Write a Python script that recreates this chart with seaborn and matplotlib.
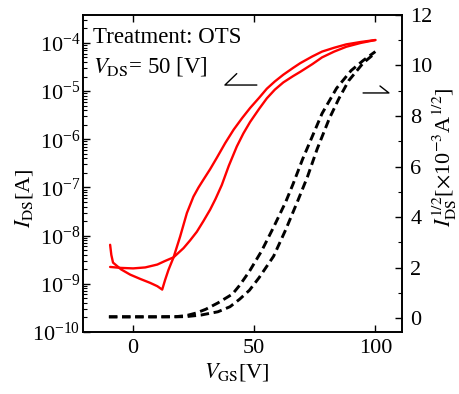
import numpy as np
import pandas as pd
import matplotlib
matplotlib.use('Agg')
import matplotlib.pyplot as plt
import seaborn as sns
from matplotlib.ticker import MultipleLocator, LogLocator, NullFormatter

# transfer curve, log scale (left axis) - two sweep directions
vgs_a = [-9.5, -5, 0, 5, 10, 13, 16.7, 20.8, 23.5, 26.3, 29, 31.8, 34, 36.6,
         39.5, 42.8, 45.5, 48.3, 52, 55.2, 58.5, 62, 66, 69, 74, 78, 83, 88, 94, 100]
log_ids_a = [-8.65, -8.67, -8.68, -8.66, -8.6, -8.53, -8.45, -8.26, -8.1, -7.92, -7.7,
             -7.46, -7.24, -6.95, -6.55, -6.15, -5.88, -5.64, -5.37, -5.15, -4.97, -4.82,
             -4.69, -4.6, -4.44, -4.3, -4.18, -4.08, -4.0, -3.94]

vgs_b = [-9.5, -9, -8.3, -5, -1.2, 3, 7, 10, 12, 13.2, 14.6, 16.7, 19.4, 22.2,
         24.9, 27, 29, 31.8, 34.6, 38, 41.5, 45, 48.3, 52, 55.2, 58.5, 62, 66,
         69, 74, 78, 83, 88, 94, 100]
log_ids_b = [-8.19, -8.4, -8.56, -8.7, -8.81, -8.9, -8.98, -9.05, -9.12, -8.92, -8.71,
             -8.45, -8.02, -7.53, -7.19, -7.0, -6.84, -6.62, -6.38, -6.08, -5.8, -5.56,
             -5.35, -5.14, -4.95, -4.8, -4.66, -4.52, -4.42, -4.28, -4.18, -4.1,
             -4.03, -3.98, -3.94]

# sqrt(I_DS) curves (right axis)
vgs_c = [-10, 0, 10, 18, 22, 26, 30, 35, 41, 44, 48, 53, 58, 63, 66, 70,
         74, 78, 84, 90, 95, 100]
sqrt_c = [0.05, 0.05, 0.05, 0.06, 0.1, 0.2, 0.35, 0.6, 0.95, 1.3, 1.85, 2.65,
          3.6, 4.6, 5.3, 6.3, 7.2, 8.1, 9.1, 9.8, 10.2, 10.55]

vgs_d = [-10, 0, 10, 18, 22, 28, 35, 40, 44, 48, 52, 58, 63, 68, 72, 76,
         81, 85, 89, 95, 100]
sqrt_d = [0.05, 0.05, 0.05, 0.05, 0.06, 0.12, 0.25, 0.45, 0.75, 1.1, 1.6, 2.45,
          3.5, 4.65, 5.6, 6.7, 7.9, 8.7, 9.4, 10.1, 10.5]

sns.set_style("ticks")
plt.rcParams['font.family'] = ['Liberation Serif', 'DejaVu Serif']
plt.rcParams['mathtext.fontset'] = 'stix'
plt.rcParams['axes.unicode_minus'] = False
plt.rcParams['font.size'] = 16
for k in ['text.color', 'axes.labelcolor', 'xtick.color', 'ytick.color', 'axes.edgecolor']:
    plt.rcParams[k] = 'black'

fig = plt.figure(figsize=(4.59, 3.94), dpi=100)
ax = fig.add_axes([0.1808, 0.1574, 0.695, 0.8046])
ax2 = ax.twinx()

df_a = pd.DataFrame({'vgs': vgs_a, 'ids': 10 ** np.array(log_ids_a)})
df_b = pd.DataFrame({'vgs': vgs_b, 'ids': 10 ** np.array(log_ids_b)})
sns.lineplot(data=df_a, x='vgs', y='ids', ax=ax, color='#ff0000', lw=1.7,
             estimator=None, sort=False)
sns.lineplot(data=df_b, x='vgs', y='ids', ax=ax, color='#ff0000', lw=1.7,
             estimator=None, sort=False)

sns.lineplot(x=vgs_c, y=sqrt_c, ax=ax2, color='black', lw=2.1,
             estimator=None, sort=False, dashes=False, linestyle=(0, (2.9, 1.6)))
sns.lineplot(x=vgs_d, y=sqrt_d, ax=ax2, color='black', lw=2.1,
             estimator=None, sort=False, dashes=False, linestyle=(0, (2.9, 1.6)))

ax.set_yscale('log')
ax.set_xlim(-20.7, 111)
ax.set_ylim(1e-10, 10 ** -3.42)
ax2.set_ylim(-0.55, 12)

ax.xaxis.set_major_locator(MultipleLocator(50))
ax.yaxis.set_major_locator(LogLocator(base=10, numticks=20))
ax.yaxis.set_minor_locator(LogLocator(base=10, subs=np.arange(2, 10), numticks=20))
ax.yaxis.set_minor_formatter(NullFormatter())
ax2.yaxis.set_major_locator(MultipleLocator(2))
ax2.yaxis.set_minor_locator(MultipleLocator(1))

ax.tick_params(axis='both', which='major', direction='in', length=5, width=1,
               labelsize=16, top=True)
ax.tick_params(axis='y', which='major', pad=2)
ax.tick_params(axis='x', which='major', pad=5)
ax.tick_params(axis='y', which='minor', direction='in', length=3, width=0.8)
ax2.tick_params(axis='y', which='major', direction='in', length=5, width=1,
                labelsize=16, pad=6)
ax2.tick_params(axis='y', which='minor', direction='in', length=3, width=0.8)
for a in (ax, ax2):
    for s in a.spines.values():
        s.set_visible(True)
        s.set_linewidth(1.2)

ax.set_xlabel(r'$V_{\rm GS}$[V]', fontsize=16)
ax.set_ylabel(r'$I_{\rm DS}$[A]', fontsize=16)
ax2.set_ylabel(r'$I_{\rm DS}^{1/2}$[$\times$10$^{-3}$A$^{1/2}$]', fontsize=16)
ax.xaxis.set_label_coords(0.483, -0.09)
ax.yaxis.set_label_coords(-0.15, 0.423)
ax2.yaxis.set_label_coords(1.088, 0.552)

ax.text(0.031, 0.912, 'Treatment: OTS', transform=ax.transAxes, fontsize=16.5,
        va='baseline', ha='left')
ax.text(0.031, 0.820, r'$V_{\rm DS}$= 50 [V]', transform=ax.transAxes,
        fontsize=16.5, va='baseline', ha='left')

# axis indicators
ax.plot([0.482, 0.445, 0.545], [0.815, 0.779, 0.779], transform=ax.transAxes,
        color='black', lw=1)
ax.plot([0.931, 0.959, 0.878], [0.776, 0.754, 0.754], transform=ax.transAxes,
        color='black', lw=1)

fig.savefig('out.png', dpi=100)
